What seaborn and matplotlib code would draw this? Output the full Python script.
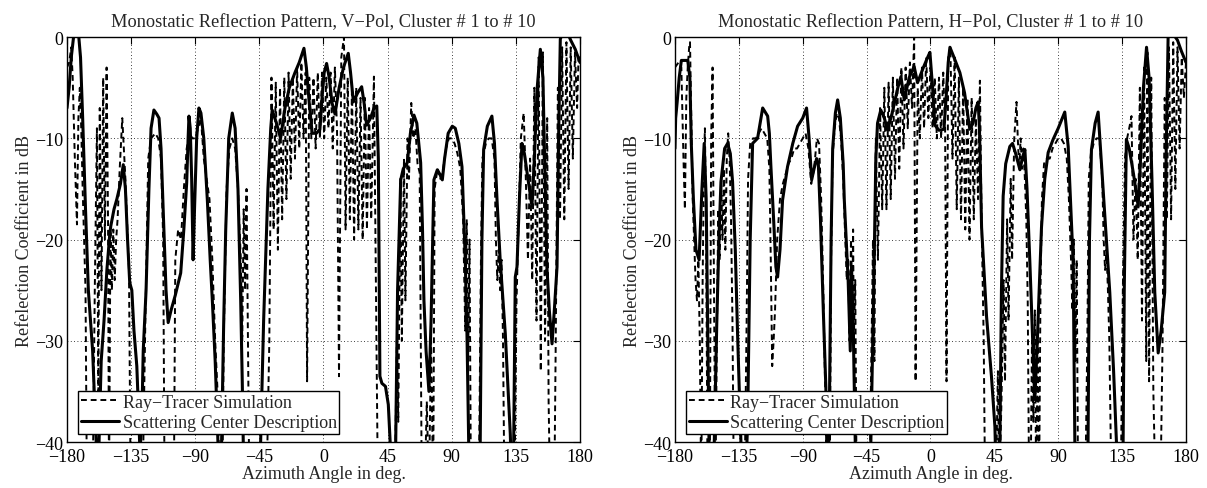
import numpy as np
import pandas as pd
import seaborn as sns
import matplotlib
matplotlib.use("Agg")
import matplotlib.pyplot as plt

# values: [azimuth deg, reflection dB]
# -45 means the curve leaves the bottom of the axes

v_pol_center = [
    [-180, -7], [-178.5, -5], [-177, -2], [-175, 0.5], [-172, 0.5], [-170.5, -2], [-169, -8],
    [-167, -17], [-165, -25], [-162, -31], [-159.5, -40], [-158.7, -42], [-157.5, -40],
    [-156, -32], [-154, -28], [-152, -23], [-150, -19.5], [-149.3, -18.7], [-147, -17],
    [-145, -16], [-142.5, -14.5], [-140.5, -12.6], [-139, -15], [-137.5, -20], [-136, -24.2],
    [-135.3, -24.6], [-134.5, -25], [-133, -29], [-131, -32.5], [-129.5, -38], [-128.8, -41],
    [-127.5, -38], [-126.5, -31], [-124.5, -25], [-122.5, -15], [-121, -9], [-119, -7.2],
    [-117, -7.6], [-115.4, -8.0], [-114, -11], [-112, -19], [-110.5, -25], [-109, -28.2],
    [-107, -27], [-104, -25.5], [-100.2, -23.3], [-98, -19], [-96, -14.4], [-95, -10],
    [-94.4, -7.8], [-93.5, -9], [-92.5, -14], [-91.5, -22], [-90.5, -17], [-89, -10],
    [-87.4, -7.0], [-86, -7.5], [-84, -10], [-81.5, -16.1], [-79.5, -22], [-78, -26],
    [-76, -32], [-74.5, -38], [-73, -45], [-71.5, -40], [-70, -28], [-68.6, -19], [-66.5, -10],
    [-64, -7.5], [-62, -9], [-60, -15], [-58.1, -26], [-57, -34], [-56.3, -40], [-55, -45],
    [-45.5, -45], [-44.1, -40], [-42, -28], [-39, -15], [-37, -9], [-36, -7.2], [-33, -8.5],
    [-30.1, -10], [-27, -7], [-24, -5], [-20, -3.5], [-17, -2.5], [-13.7, -1.1], [-12, -3],
    [-10, -6.5], [-7.9, -9.5], [-5, -9.5], [-2.5, -9.1], [-1, -6], [0.5, -3.5], [2.2, -2.6],
    [4, -4], [6, -6.5], [8.1, -7.6], [11, -5], [14, -3], [17.4, -1.6], [19, -3.5], [21, -6.4],
    [24, -5.5], [26.8, -4.9], [28.5, -6.5], [30.3, -8.7], [33, -8], [35.5, -7], [37.4, -6.8],
    [38.5, -12], [39.6, -33.5], [41, -34.2], [43.5, -34.5], [45.5, -36.3], [47.5, -42],
    [49, -45], [50.7, -40], [52, -25], [54.2, -14.1], [56, -13], [58.8, -12.4], [61, -9.5],
    [63.5, -7.7], [65.5, -8.5], [68.2, -12.4], [69.5, -19], [70.5, -26], [72, -31], [74, -35],
    [75.5, -28], [77.5, -14.1], [79.9, -13.1], [81.5, -13.5], [83.4, -14.1], [85, -12],
    [87.5, -9.5], [90.4, -8.8], [92.5, -9], [95, -10.5], [97.2, -12.8], [99.5, -22],
    [100.7, -29.3], [101.9, -40], [103, -45], [108.5, -45], [110, -40], [111.2, -20],
    [112.4, -11.1], [115, -8.8], [118.2, -7.8], [120, -10.5], [121.8, -16.1], [124, -22],
    [127.6, -29.3], [131.1, -39.2], [132.3, -45], [133.5, -40], [134.6, -23.7], [135.8, -22.7],
    [137.5, -16], [139.3, -10.5], [141, -11.5], [143.5, -14], [146.3, -16.7], [148, -12],
    [150, -5], [152.2, -1.2], [154, -4], [155.5, -14], [156.8, -22.7], [158.5, -27],
    [160.4, -30.3], [162, -27], [163.9, -22.7], [165, -10], [166.2, -0.2], [168, 0.5],
    [171, 0.5], [173.5, -0.3], [176.7, -1.2], [180, -2.5],
]

v_pol_sim = [
    [-180, -3], [-178.5, -2.5], [-177, -1], [-176, -4], [-174.5, -12], [-173, -18.5],
    [-172, -8], [-171, -5], [-170, -9], [-169, -15], [-168, -20], [-167, -25], [-166, -45],
    [-162, -45], [-160.5, -25], [-159, -9], [-158, -35], [-157, -7], [-155.8, -25],
    [-154.6, -4], [-153.4, -20], [-152.2, -3], [-151.2, -18], [-150.5, -45], [-149.5, -19],
    [-148.5, -25], [-147.5, -19], [-146.5, -24], [-145.5, -20], [-144.5, -18], [-143, -13],
    [-141.2, -8], [-139, -14], [-136.5, -23], [-135.3, -45], [-127, -45], [-125, -28],
    [-123, -12], [-121, -10], [-118, -9.5], [-116, -10], [-114, -12], [-112.5, -20],
    [-111.5, -45], [-105, -45], [-104, -22], [-102, -19], [-100, -20], [-98, -15], [-96, -11],
    [-94, -9.5], [-92, -10], [-90, -10], [-88, -9], [-86, -8], [-84, -12], [-82, -14],
    [-80, -16], [-78, -22], [-76, -30], [-74, -36], [-73, -45], [-71, -45], [-70, -30],
    [-68, -15], [-66, -11], [-64, -10], [-62, -11], [-60, -15], [-58, -22], [-57, -30],
    [-56, -17], [-55, -25], [-54, -15], [-53, -30], [-52, -45], [-40, -45], [-38, -30],
    [-36.5, -4], [-35, -19], [-33.5, -4.5], [-32, -21], [-30.5, -5], [-29, -18], [-27.5, -4],
    [-26, -16], [-24.5, -3.5], [-23, -14], [-21.5, -4], [-20, -12], [-18.5, -3], [-17, -11],
    [-15.5, -2.5], [-14, -10], [-12.5, -3.5], [-11.5, -34], [-10, -4], [-8.5, -10], [-7, -4],
    [-5.5, -11], [-4, -3.5], [-2.5, -10], [-1, -3.5], [0.5, -10], [2, -4], [3.5, -9],
    [5, -3.5], [6.5, -11], [8, -3], [9.5, -9], [10.9, -33.5], [12.5, -2], [14.4, 0],
    [15.5, -19], [17, -4], [18.5, -18], [20, -5], [21.5, -20], [23, -5], [24.5, -19],
    [26, -6], [27.5, -20], [29, -6], [30.5, -19], [32, -7], [33.5, -18], [35.4, -3.9],
    [36.5, -20], [38.2, -45], [50, -45], [51.5, -30], [52.5, -38], [54, -14], [55, -30],
    [56.5, -12], [57.5, -26], [59, -10], [60, -14], [61.6, -6.5], [63, -10], [64.5, -9],
    [66, -12.5], [67.5, -13.4], [69, -45], [71, -45], [72.5, -36], [74, -45], [75.5, -30],
    [77, -45], [78, -15], [80, -13], [82, -14], [84, -13], [86, -11], [88, -10], [90, -10],
    [92, -10.5], [94, -11.5], [96, -13], [98, -18], [99.5, -29], [100.5, -18], [101.5, -32],
    [102.5, -20], [103.5, -45], [109, -45], [110.5, -22], [111.5, -12], [114, -10.5],
    [116, -10], [118, -10], [120, -12], [121, -20], [122, -24], [123, -21], [124, -25],
    [125, -22], [126, -30], [127, -45], [134, -45], [135.5, -26], [137, -18], [138.5, -10],
    [140.5, -7.5], [142, -14], [143.5, -22], [145, -12], [146.5, -24], [148, -5],
    [149.5, -28], [151, -2], [152.5, -33], [154, -1.5], [155.5, -30], [157, -8], [158, -36],
    [159, -45], [162, -45], [163, -30], [164.5, -5], [166, -18], [167.5, -1], [169, -18],
    [170.5, -0.5], [172, -15], [173.5, -1], [175, -12], [176.5, -1.5], [178, -7], [179, -2],
    [180, -2],
]

h_pol_center = [
    [-180, -11], [-179.5, -8], [-178.5, -6.5], [-177, -4], [-175.5, -2.3], [-171, -2.3],
    [-169.5, -4], [-168.5, -10.5], [-167, -16], [-165.2, -21], [-163, -22], [-161, -15],
    [-159.4, -10.5], [-158, -16], [-157, -28], [-156, -40], [-154, -45], [-152.3, -40],
    [-150.5, -28], [-148.8, -19], [-147.6, -14.3], [-145, -11], [-142.9, -10.5],
    [-141, -11.5], [-139.4, -14.3], [-137.5, -21], [-135.9, -29.3], [-134, -38],
    [-132.3, -45], [-130.5, -45], [-128.8, -38], [-127, -20], [-125.3, -10.5],
    [-121.8, -10], [-120, -8.5], [-118.2, -7], [-114.7, -7.8], [-113.5, -9.5],
    [-112.4, -12.8], [-110.5, -18], [-108.9, -22.7], [-107.7, -23.7], [-106, -21],
    [-104.2, -16.1], [-100.7, -12.8], [-97, -10.5], [-93.6, -8.8], [-90, -8], [-87.3, -7],
    [-85.5, -10], [-83.7, -14.1], [-82, -13], [-80.2, -12], [-79, -12.5], [-77.5, -18],
    [-75.5, -27], [-73.7, -34.6], [-72.5, -45], [-71.3, -38], [-70, -20], [-68.9, -11],
    [-67, -7.5], [-65.4, -6.2], [-63.5, -8], [-61.5, -12.5], [-60.7, -16.1], [-58, -24],
    [-56.5, -31], [-55.6, -22.7], [-54.5, -28], [-53, -40], [-52, -45], [-44, -45],
    [-42, -40], [-40, -25], [-38.5, -12], [-37.3, -8.5], [-35, -7.2], [-32.5, -8],
    [-30.2, -9.2], [-27, -7.5], [-23, -5], [-20.8, -3.9], [-18.5, -6.2], [-15, -4],
    [-11.5, -2.9], [-9.1, -4.5], [-5, -3], [-2, -2], [-0.4, -1.5], [1.5, -5], [3.1, -8.7],
    [6, -9.2], [9.5, -9.1], [11, -6], [12.5, -2.5], [13.7, -1.0], [16, -1.8], [20.7, -3.5],
    [24, -5.5], [27.7, -9.1], [30, -8.5], [32, -7], [33.6, -6.4], [34.5, -9], [36, -18.8],
    [39.5, -27.6], [43, -33.6], [45.4, -38.5], [46.5, -45], [48, -45], [48.9, -40],
    [50, -25], [51.2, -15.7], [53, -12.5], [55.9, -10.8], [57.8, -10.5], [60, -11.5],
    [63, -13.1], [65, -11.8], [66.5, -11.1], [68, -15], [70, -22.2], [72, -30],
    [73.5, -35.8], [75, -31], [78.2, -18.8], [80.5, -14], [82.9, -11.4], [86.4, -10.1],
    [90, -9], [94.6, -7.4], [97, -10.8], [100.5, -22.2], [101.7, -40], [103, -45],
    [109, -45], [111, -40], [112, -20], [113.4, -11.1], [116, -8.5], [118.1, -7.4],
    [120.4, -12.4], [123, -18], [126.3, -25.2], [129, -33], [131, -40], [133, -45],
    [135.7, -40], [136.5, -25], [138, -10.1], [140, -11], [143, -13.5], [146.3, -16.7],
    [148, -12], [150, -5], [152.2, -1.0], [154, -4], [156, -14], [158, -25.2],
    [160.4, -31.2], [162.5, -29], [165, -25.2], [166, -12], [167.4, 0], [169, 0.5],
    [171, 0.3], [174, -0.3], [176.8, -1.4], [180, -2.5],
]

h_pol_sim = [
    [-180, -3], [-177.5, -2.5], [-175.5, -3], [-174, -12], [-173, -17], [-172, -6],
    [-171, -3], [-170, -1], [-169.4, -0.5], [-168.5, -8], [-167.5, -16], [-166.5, -20],
    [-165.5, -24], [-164.5, -26], [-163.5, -22], [-162.5, -30], [-161.5, -45],
    [-160.5, -24], [-159.5, -12], [-158.9, -9], [-158, -20], [-157, -45], [-155.5, -45],
    [-154.5, -10], [-153.5, -3], [-152.5, -25], [-151.5, -45], [-150.5, -30], [-149.5, -17],
    [-148.5, -22], [-147.5, -14], [-146.5, -20], [-145.5, -13], [-144.5, -21],
    [-143.5, -12], [-142.5, -9.5], [-141.5, -12], [-140.5, -18], [-139.5, -28],
    [-138.5, -45], [-131, -45], [-129.5, -28], [-128.5, -14], [-127, -10.5], [-125, -10],
    [-123, -10], [-121, -9.5], [-119, -9], [-117, -9.5], [-115, -10], [-113.5, -13],
    [-112.5, -22], [-111.5, -32.5], [-110.5, -30], [-109.5, -27], [-108, -20], [-106, -16],
    [-104, -14.5], [-102, -13.5], [-100, -12.5], [-98, -12], [-96, -11], [-94, -11],
    [-92, -10.5], [-90, -10], [-88, -9.5], [-86, -11], [-84, -14.5], [-82, -13], [-80, -10],
    [-78.5, -10.5], [-77, -16], [-75.5, -25], [-74, -36], [-73, -45], [-71, -45],
    [-70, -22], [-69, -12], [-67.5, -9], [-66, -7.5], [-64.5, -8], [-63, -10], [-61.5, -14],
    [-60, -20], [-59, -24], [-58, -22], [-57, -30], [-56, -20], [-55, -26], [-54.5, -19],
    [-54, -30], [-53, -24], [-52, -45], [-43, -45], [-41.5, -30], [-40.5, -20],
    [-39.5, -32], [-38.5, -10], [-37, -22], [-35.5, -7], [-34, -17], [-32.5, -5],
    [-31, -17], [-29.5, -4.5], [-28, -16], [-26.5, -4], [-25, -14], [-23.5, -4], [-22, -13],
    [-20.5, -3], [-19, -11], [-17.5, -3], [-16, -9], [-14.5, -2.5], [-13, -7], [-11.5, 0],
    [-10.5, -34], [-9, -5], [-7.5, -10], [-6, -3], [-4.5, -9], [-3, -2], [-1.5, -8], [0, -3],
    [1.5, -9], [3, -4], [4.5, -10], [6, -4], [7.5, -10], [9, -3.5], [10.3, -9], [11.3, -34],
    [12.5, -2], [14, -1], [15.5, -12], [17, -2], [18.5, -17], [20, -4], [21.5, -18],
    [23, -5], [24.5, -19], [26, -6], [27.5, -20], [29, -6], [30.5, -18], [32, -8],
    [33.5, -16], [34.8, -4.3], [36, -18], [37.5, -30], [38.5, -45], [46, -45], [47.5, -33],
    [48.5, -45], [50, -36], [51.5, -24], [52.5, -34], [54, -18], [55, -28], [56.5, -14],
    [57.5, -22], [59, -10], [60.6, -6.4], [61.5, -10], [62.5, -13], [63.5, -10],
    [64.5, -13], [65.5, -11], [66.5, -14], [67.5, -18], [68.5, -26], [69.5, -45],
    [70.5, -45], [71.5, -30], [72.5, -38], [73.5, -27], [74.5, -45], [75.5, -30],
    [76.5, -45], [77.5, -25], [78.5, -16], [80, -12.5], [82, -12], [84, -12], [86, -11],
    [88, -10.5], [90, -10], [92, -10], [94, -10.5], [96, -12], [97.5, -16], [99, -22],
    [100, -27], [101, -20], [102, -32], [103, -22], [104, -45], [109, -45], [110.5, -30],
    [111.5, -14], [113, -11.5], [115, -10.5], [117, -10], [119, -10], [121, -14],
    [122, -20], [123, -23], [124, -21], [125, -25], [126, -30], [127.5, -45], [134, -45],
    [135.5, -25], [137, -12], [138.5, -10], [140, -9], [141.6, -7.8], [143, -20],
    [144.5, -14], [146, -22], [147.5, -5], [149, -28], [150.5, -3], [152, -32],
    [152.8, -1.5], [154, -34], [155.5, -4], [157, -35], [158.5, -45], [162, -45],
    [163.5, -30], [165, -6], [166.5, -18], [168, -1], [169.5, -18], [171, -0.5],
    [172.5, -15], [174, -1], [175.5, -11], [177, -2], [178.5, -6], [180, -2.5],
]

titles = ["Monostatic Reflection Pattern, V\u2212Pol, Cluster # 1 to # 10",
          "Monostatic Reflection Pattern, H\u2212Pol, Cluster # 1 to # 10"]
legend_labels = ["Ray\u2212Tracer Simulation", "Scattering Center Description"]
x_ticks = [-180, -135, -90, -45, 0, 45, 90, 135, 180]
y_ticks = [-40, -30, -20, -10, 0]

sns.set_style("white")
plt.rcParams['font.family'] = ['Liberation Serif', 'DejaVu Serif']


def to_frame(points):
    arr = np.array(points, dtype=float)
    return pd.DataFrame({'angle': arr[:, 0], 'db': arr[:, 1]})


def draw_panel(ax, sim, center, title):
    sns.lineplot(data=to_frame(sim), x='angle', y='db', ax=ax, color='black',
                 linewidth=1.4, linestyle=(0, (3, 2)), sort=False,
                 label=legend_labels[0])
    sns.lineplot(data=to_frame(center), x='angle', y='db', ax=ax, color='black',
                 linewidth=2.2, sort=False, label=legend_labels[1])
    ax.set_xlim(-180, 180)
    ax.set_ylim(-40, 0)
    ax.set_xticks(x_ticks)
    ax.set_yticks(y_ticks)
    ax.grid(True, color='black', linestyle=(0, (1, 3)), linewidth=0.6)
    ax.tick_params(direction='in', top=True, right=True, length=5, width=0.8,
                   labelsize=13, colors='black')
    ax.tick_params(axis='x', pad=4)
    ax.tick_params(axis='y', pad=3)
    for sp in ax.spines.values():
        sp.set_color('black')
        sp.set_linewidth(1.0)
    ax.set_title(title, fontsize=13.2, pad=8)
    ax.set_xlabel("Azimuth Angle in deg.", fontsize=13, labelpad=0)
    ax.set_ylabel("Refelection Coefficient in dB", fontsize=13, labelpad=1)
    leg = ax.legend(loc='lower left', bbox_to_anchor=(0.022, 0.02),
                    borderaxespad=0, fancybox=False, framealpha=1,
                    edgecolor='black', fontsize=13, handlelength=2.1,
                    handletextpad=0.2, borderpad=0.15, labelspacing=0.2)
    leg.get_frame().set_linewidth(1.0)


fig = plt.figure(figsize=(12.07, 4.89), dpi=100)
ax1 = fig.add_axes([0.0555, 0.094, 0.425, 0.828])
ax2 = fig.add_axes([0.5592, 0.094, 0.4234, 0.828])
draw_panel(ax1, v_pol_sim, v_pol_center, titles[0])
draw_panel(ax2, h_pol_sim, h_pol_center, titles[1])

fig.savefig("out.png", dpi=100)
